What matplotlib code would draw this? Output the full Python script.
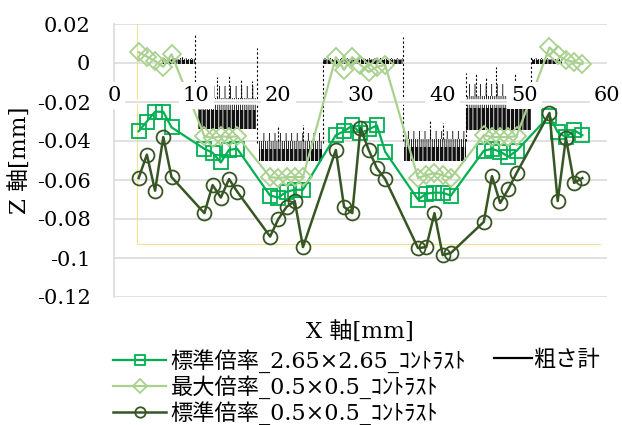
import matplotlib
matplotlib.use("Agg")
import matplotlib.pyplot as plt
from matplotlib.lines import Line2D
import matplotlib.patheffects as pe

plt.rcParams["font.family"] = ["DejaVu Serif", "Noto Sans CJK JP"]
plt.rcParams["hatch.linewidth"] = 0.6
plt.rcParams["axes.unicode_minus"] = False

# measurement positions along X [mm]
x_pos = [3, 4, 5, 6, 7,
         11, 12, 13, 14, 15,
         19, 20, 21, 22, 23,
         27, 28, 29, 30, 31, 32, 33,
         37, 38, 39, 40, 41,
         45, 46, 47, 48, 49,
         53, 54, 55, 56, 57]

# Z heights [mm] for each optical setting
std_265 = [-0.035, -0.030, -0.025, -0.025, -0.033,
           -0.044, -0.046, -0.051, -0.0445, -0.044,
           -0.068, -0.069, -0.066, -0.065, -0.065,
           -0.037, -0.035, -0.032, -0.036, -0.034, -0.032, -0.0455,
           -0.070, -0.067, -0.0665, -0.0665, -0.068,
           -0.045, -0.044, -0.0455, -0.048, -0.045,
           -0.027, -0.0355, -0.038, -0.0345, -0.037]
max_05 = [0.0055, 0.0033, 0.001, -0.002, 0.0045,
          -0.0375, -0.0385, -0.0375, -0.038, -0.0375,
          -0.0585, -0.059, -0.0585, -0.0585, -0.0585,
          0.003, -0.0035, 0.003, -0.001, -0.0046, -0.002, -0.001,
          -0.059, -0.0575, -0.0565, -0.0575, -0.059,
          -0.037, -0.038, -0.038, -0.038, -0.0375,
          0.008, 0.004, 0.0015, 0.0005, -0.0005]
std_05 = [-0.059, -0.047, -0.0655, -0.038, -0.0585,
          -0.077, -0.0626, -0.069, -0.0595, -0.066,
          -0.089, -0.080, -0.0738, -0.0708, -0.0944,
          -0.0446, -0.0738, -0.077, -0.0333, -0.0446, -0.054, -0.0595,
          -0.0949, -0.0944, -0.077, -0.0985, -0.0974,
          -0.0815, -0.058, -0.0718, -0.0646, -0.0564,
          -0.0256, -0.0708, -0.0385, -0.0615, -0.059]

# roughness-meter trace, summarised per step:
# extent, dense band (lo..hi), busier scatter (hi..mid), sparse scatter (mid..top)
seg_x0 = [5.8, 10.2, 17.6, 25.4, 35.3, 42.9, 50.9]
seg_x1 = [9.9, 17.3, 25.3, 35.2, 42.8, 50.7, 54.5]
seg_lo = [-0.0004, -0.034, -0.0505, -0.0004, -0.0505, -0.0345, -0.0004]
seg_hi = [0.0016, -0.024, -0.044, 0.0016, -0.043, -0.023, 0.0016]
seg_mid = [0.0022, -0.018, -0.040, 0.0022, -0.039, -0.017, 0.0022]
seg_top = [0.0028, -0.012, -0.036, 0.0028, -0.035, -0.011, 0.0028]

# isolated peaks of the trace
spike_x = [7.0, 8.3, 12.5, 14.0, 15.5, 16.8, 20.0, 23.0, 38.4, 40.0, 44.0, 45.3, 46.5, 48.8]
spike_top = [0.004, 0.0035, -0.007, -0.006, -0.008, -0.009, -0.033, -0.032,
             -0.029, -0.031, -0.005, -0.007, -0.002, -0.005]

# steep flanks between steps
drop_x = [9.9, 17.4, 25.4, 35.2, 42.9, 50.8]
drop_top = [0.0145, 0.0075, 0.001, 0.0135, -0.005, 0.003]
drop_bot = [-0.021, -0.041, -0.041, -0.040, -0.040, -0.021]

# measurement area outline
frame_x = [2.8, 2.8, 59.1]
frame_y = [0.02, -0.093, -0.093]

x_ticks = [0, 10, 20, 30, 40, 50, 60]
x_tick_labels = ["0", "10", "20", "30", "40", "50", "60"]
y_ticks = [0.02, 0.0, -0.02, -0.04, -0.06, -0.08, -0.1, -0.12]
y_tick_labels = ["0.02", "0", "-0.02", "-0.04", "-0.06", "-0.08", "-0.1", "-0.12"]

labels = ["標準倍率_2.65×2.65_ｺﾝﾄﾗｽﾄ", "最大倍率_0.5×0.5_ｺﾝﾄﾗｽﾄ",
          "標準倍率_0.5×0.5_ｺﾝﾄﾗｽﾄ", "粗さ計"]

c_std265 = "#00B050"
c_max05 = "#A9D18E"
c_std05 = "#375623"
grid_c = "#D9D9D9"

fig = plt.figure(figsize=(6.22, 4.25), dpi=100)
ax = fig.add_axes([114 / 622, 1 - 297 / 425, (607 - 114) / 622, (297 - 24) / 425])
ax.set_xlim(0, 60)
ax.set_ylim(-0.12, 0.02)

ax.set_yticks(y_ticks)
ax.set_yticklabels(y_tick_labels, fontsize=15)
ax.tick_params(axis="y", length=0, pad=17)
ax.set_xticks([])
ax.yaxis.grid(True, color=grid_c, lw=1.1)
ax.set_axisbelow(True)
for s in ("top", "right", "bottom"):
    ax.spines[s].set_visible(False)
ax.spines["left"].set_color(grid_c)
ax.spines["left"].set_linewidth(1.1)

# outline of the measured area
ax.plot(frame_x, frame_y, color="#F3E18A", lw=0.8, zorder=1.2)

# roughness trace
for x0, x1, lo, hi, mid, top in zip(seg_x0, seg_x1, seg_lo, seg_hi, seg_mid, seg_top):
    ax.fill_between([x0, x1], [mid, mid], [top, top], facecolor="none",
                    edgecolor="black", hatch="|||", lw=0, zorder=1.5)
    ax.fill_between([x0, x1], [hi, hi], [mid, mid], facecolor="none",
                    edgecolor="black", hatch="||||||||", lw=0, zorder=1.5)
    ax.fill_between([x0, x1], [lo, lo], [hi, hi], facecolor="#111111",
                    edgecolor="white", hatch="||||", lw=0, zorder=1.5)
for sx, st in zip(spike_x, spike_top):
    i = [k for k in range(len(seg_x0)) if seg_x0[k] <= sx <= seg_x1[k]][0]
    ax.plot([sx, sx], [seg_mid[i], st], color="black", lw=0.8, ls=(0, (2, 1.5)), zorder=1.5)
for dx, dt, db in zip(drop_x, drop_top, drop_bot):
    ax.plot([dx, dx], [db, dt], color="black", lw=0.8, ls=(0, (2, 2)), zorder=1.5)

# gridline at -0.02 with a white edge over the trace
ax.axhline(-0.02, color=grid_c, lw=1.1, zorder=1.8,
           path_effects=[pe.Stroke(linewidth=4, foreground="white"), pe.Normal()])

l1, = ax.plot(x_pos, std_265, color=c_std265, lw=1.6, marker="s", ms=9.5,
              mfc="none", mec=c_std265, mew=1.3, zorder=3)
l2, = ax.plot(x_pos, max_05, color=c_max05, lw=1.6, marker="D", ms=9,
              mfc="none", mec=c_max05, mew=1.3, zorder=3.1)
l3, = ax.plot(x_pos, std_05, color=c_std05, lw=1.8, marker="o", ms=10,
              mfc="none", mec=c_std05, mew=1.3, zorder=3.2)
l4 = Line2D([], [], color="black", lw=1.6)

# category labels sit on the y=0 axis with an opaque background
for xv, lab in zip(x_ticks, x_tick_labels):
    ax.text(xv, -0.0167, lab, ha="center", va="center", fontsize=15, zorder=5,
            bbox=dict(facecolor="white", edgecolor="none", pad=3))

fig.text(360 / 622, 1 - 333 / 425, "X 軸[mm]", ha="center", va="center", fontsize=16.5)
fig.text(21 / 622, 1 - 160 / 425, "Z 軸[mm]", ha="center", va="center",
         rotation=90, fontsize=16.5)

fig.legend([l1, l2, l3], labels[:3], loc="upper left",
           bbox_to_anchor=(113 / 622, 1 - 349 / 425), markerscale=0.75,
           frameon=False, fontsize=16, handlelength=2.4, handletextpad=0.2,
           labelspacing=0.1, borderpad=0, borderaxespad=0)
fig.legend([l4], labels[3:], loc="upper left",
           bbox_to_anchor=(494 / 622, 1 - 349 / 425),
           frameon=False, fontsize=16, handlelength=1.7, handletextpad=0.05,
           borderpad=0, borderaxespad=0)

fig.savefig("out.png", dpi=100)
